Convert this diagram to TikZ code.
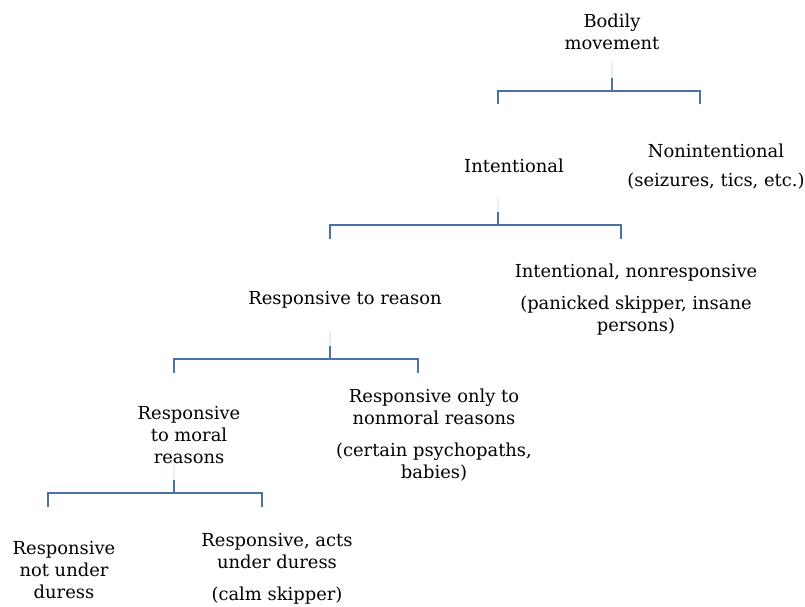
\documentclass[tikz,border=0pt]{standalone}
\usepackage{fontspec}
\setmainfont{DejaVu Serif}
\usepackage{xcolor}
\definecolor{branchblue}{RGB}{74,114,166}
\definecolor{fadeblue}{RGB}{232,238,246}

\begin{document}
\begin{tikzpicture}[x=1pt,y=-1pt,
  lbl/.style={align=center,inner sep=0pt,font=\fontsize{17.9}{22}\selectfont},
  branch/.style={draw=branchblue,line width=2.2pt},
  fade/.style={draw=fadeblue,line width=2.2pt}]
 \useasboundingbox (0,0) rectangle (805,607);
 % labels
 \node[lbl] (bodily) at (612,32) {Bodily\\movement};
 \node[lbl] (intent) at (514,166) {Intentional};
 \node[lbl] (nonint) at (716,167) {Nonintentional\\[7pt](seizures, tics, etc.)};
 \node[lbl] (nonresp) at (636,300) {Intentional, nonresponsive\\[10pt](panicked skipper, insane\\persons)};
 \node[lbl] (resp) at (345,300) {Responsive to reason};
 \node[lbl] (nonmoral) at (434,435) {Responsive only to\\nonmoral reasons\\[10pt](certain psychopaths,\\babies)};
 \node[lbl] (moral) at (189,435) {Responsive\\to moral\\reasons};
 \node[lbl] (notdur) at (64,570) {Responsive\\not under\\duress};
 \node[lbl] (duress) at (277,569) {Responsive, acts\\under duress\\[10pt](calm skipper)};
 
 % bracket under bodily movement
 \coordinate (b1-faint) at (612,63);
 \coordinate (b1-top) at (612,78);
 \coordinate (b1-fork) at (612,91);
 \coordinate (b1-l) at (498,104);
 \coordinate (b1-r) at (700,104);
 \draw[fade] (b1-faint)--(b1-top);
 \draw[branch] (b1-top)--(b1-fork);
 \draw[branch] (b1-l) |- (b1-fork) -| (b1-r);
 % bracket under intentional
 \coordinate (b2-faint) at (498,197);
 \coordinate (b2-top) at (498,212);
 \coordinate (b2-fork) at (498,225);
 \coordinate (b2-l) at (330,239);
 \coordinate (b2-r) at (621,239);
 \draw[fade] (b2-faint)--(b2-top);
 \draw[branch] (b2-top)--(b2-fork);
 \draw[branch] (b2-l) |- (b2-fork) -| (b2-r);
 % bracket under responsive to reason
 \coordinate (b3-faint) at (330,332);
 \coordinate (b3-top) at (330,346);
 \coordinate (b3-fork) at (330,359);
 \coordinate (b3-l) at (174,373);
 \coordinate (b3-r) at (418,373);
 \draw[fade] (b3-faint)--(b3-top);
 \draw[branch] (b3-top)--(b3-fork);
 \draw[branch] (b3-l) |- (b3-fork) -| (b3-r);
 % bracket under moral reasons
 \coordinate (b4-faint) at (174,465);
 \coordinate (b4-top) at (174,480);
 \coordinate (b4-fork) at (174,493);
 \coordinate (b4-l) at (48,507);
 \coordinate (b4-r) at (262,507);
 \draw[fade] (b4-faint)--(b4-top);
 \draw[branch] (b4-top)--(b4-fork);
 \draw[branch] (b4-l) |- (b4-fork) -| (b4-r);
 
\end{tikzpicture}
\end{document}
